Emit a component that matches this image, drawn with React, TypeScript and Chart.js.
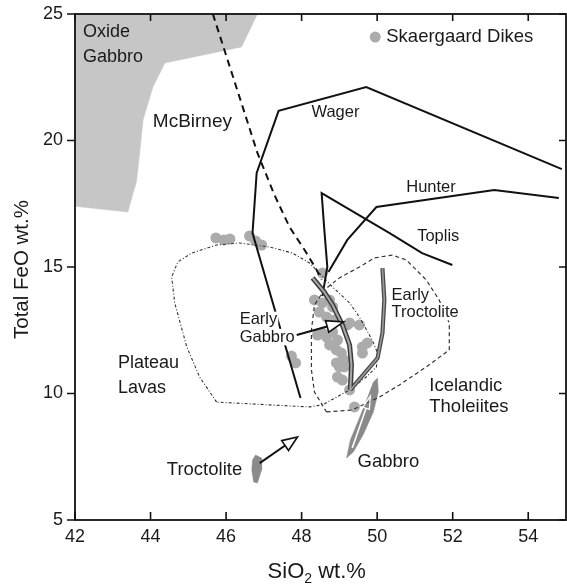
import React, { useEffect, useRef } from "react";
import { Chart, registerables } from "chart.js";

Chart.register(...registerables);

type Pt = { x: number; y: number };

const FONT = "'Liberation Sans', Arial, Helvetica, sans-serif";
const INK = "#1a1a1a";

// Axis ranges and ticks
const xMin = 42;
const xMax = 55;
const yMin = 5;
const yMax = 25;
const xTickValues = [42, 44, 46, 48, 50, 52, 54];
const yTickValues = [5, 10, 15, 20, 25];

// Skaergaard dike compositions: SiO2 and total FeO (wt.%)
const dikeSiO2 = [
  45.73, 45.94, 46.1, 46.62, 46.78, 46.94, 48.55, 48.34, 48.55, 48.74, 48.47, 48.66, 48.87,
  48.82, 49.27, 49.53, 48.42, 48.66, 48.82, 48.95, 48.92, 49.05, 49.13, 48.92, 49.0, 49.13,
  49.61, 49.74, 49.61, 48.95, 49.27, 49.4, 47.73, 47.84, 48.55, 49.21, 49.08, 48.74,
];
const dikeFeO = [
  16.15, 16.07, 16.11, 16.23, 16.03, 15.87, 14.76, 13.7, 13.58, 13.7, 13.22, 13.02, 12.91,
  13.42, 12.79, 12.71, 12.31, 12.23, 12.43, 12.11, 11.72, 11.6, 11.32, 11.21, 11.05, 11.05,
  11.84, 12.0, 11.6, 10.65, 10.14, 9.47, 11.48, 11.21, 12.39, 12.71, 10.53, 11.92,
];

// Oxide gabbro field
const oxideGabbro: Pt[] = [
  { x: 42, y: 25 }, { x: 46.83, y: 25 }, { x: 46.41, y: 23.7 }, { x: 44.38, y: 23.06 },
  { x: 44.06, y: 22.1 }, { x: 43.8, y: 20.8 }, { x: 43.72, y: 19.6 }, { x: 43.63, y: 18.4 },
  { x: 43.4, y: 17.17 }, { x: 42, y: 17.4 }, { x: 42, y: 25 },
];

// Liquid lines of descent
const mcBirney: Pt[] = [
  { x: 45.65, y: 25 }, { x: 46.83, y: 19.51 }, { x: 47.28, y: 17.85 }, { x: 47.68, y: 16.58 },
  { x: 48.08, y: 15.67 }, { x: 48.37, y: 14.96 }, { x: 48.53, y: 14.49 },
];
const wager: Pt[] = [
  { x: 47.97, y: 9.82 }, { x: 46.7, y: 16.34 }, { x: 46.81, y: 18.72 }, { x: 47.39, y: 21.17 },
  { x: 49.71, y: 22.11 }, { x: 54.89, y: 18.87 },
];
const hunter: Pt[] = [
  { x: 48.71, y: 14.8 }, { x: 49.21, y: 16.07 }, { x: 49.98, y: 17.37 }, { x: 53.1, y: 18.04 },
  { x: 54.81, y: 17.73 },
];
const toplis: Pt[] = [
  { x: 48.55, y: 13.85 }, { x: 48.68, y: 15.0 }, { x: 48.6, y: 16.5 }, { x: 48.53, y: 17.92 },
  { x: 50.33, y: 16.34 }, { x: 51.19, y: 15.55 }, { x: 51.99, y: 15.08 },
];
const earlyGabbro: Pt[] = [
  { x: 48.29, y: 14.57 }, { x: 48.6, y: 14.01 }, { x: 48.82, y: 13.5 }, { x: 49.08, y: 12.71 },
  { x: 49.27, y: 11.92 }, { x: 49.32, y: 11.13 }, { x: 49.29, y: 10.14 },
];
const earlyTroctolite: Pt[] = [
  { x: 50.14, y: 14.96 }, { x: 50.19, y: 13.7 }, { x: 50.14, y: 12.39 }, { x: 50.01, y: 11.4 },
  { x: 49.29, y: 10.14 },
];

// Comparison fields
const plateauLavas: Pt[] = [
  { x: 45.75, y: 9.66 }, { x: 45.3, y: 10.65 }, { x: 44.96, y: 11.84 }, { x: 44.64, y: 13.58 },
  { x: 44.56, y: 14.6 }, { x: 44.72, y: 15.2 }, { x: 45.09, y: 15.55 }, { x: 45.75, y: 15.87 },
  { x: 46.36, y: 15.95 }, { x: 47.15, y: 15.79 }, { x: 47.76, y: 15.55 }, { x: 48.21, y: 15.16 },
  { x: 48.47, y: 14.76 }, { x: 48.82, y: 14.21 }, { x: 49.27, y: 13.58 }, { x: 49.53, y: 13.02 },
  { x: 49.87, y: 12.11 }, { x: 50.01, y: 11.6 }, { x: 49.98, y: 11.05 }, { x: 49.71, y: 10.65 },
  { x: 49.27, y: 10.14 }, { x: 48.55, y: 9.55 }, { x: 48.21, y: 9.47 }, { x: 47.15, y: 9.55 },
  { x: 45.75, y: 9.66 },
];
const icelandicTholeiites: Pt[] = [
  { x: 48.66, y: 9.27 }, { x: 49.34, y: 9.35 }, { x: 50.06, y: 9.86 }, { x: 50.59, y: 10.34 },
  { x: 51.3, y: 11.05 }, { x: 51.91, y: 11.72 }, { x: 51.91, y: 12.79 }, { x: 51.64, y: 13.7 },
  { x: 51.3, y: 14.49 }, { x: 50.77, y: 15.28 }, { x: 50.4, y: 15.47 }, { x: 49.93, y: 15.36 },
  { x: 49.53, y: 15.0 }, { x: 49.0, y: 14.57 }, { x: 48.6, y: 14.09 }, { x: 48.34, y: 13.5 },
  { x: 48.26, y: 12.51 }, { x: 48.26, y: 10.93 }, { x: 48.34, y: 10.06 }, { x: 48.66, y: 9.27 },
];

// Cumulate compositions
const troctoliteField: Pt[] = [
  { x: 46.78, y: 7.57 }, { x: 46.94, y: 7.45 }, { x: 46.94, y: 6.98 }, { x: 46.83, y: 6.46 },
  { x: 46.73, y: 6.5 }, { x: 46.68, y: 6.98 }, { x: 46.7, y: 7.37 }, { x: 46.78, y: 7.57 },
];
const gabbroField: Pt[] = [
  { x: 49.19, y: 7.45 }, { x: 49.29, y: 8.16 }, { x: 49.53, y: 9.03 }, { x: 49.74, y: 9.82 },
  { x: 49.9, y: 10.45 }, { x: 50.01, y: 10.61 }, { x: 50.03, y: 10.06 }, { x: 49.9, y: 9.27 },
  { x: 49.64, y: 8.4 }, { x: 49.37, y: 7.69 }, { x: 49.19, y: 7.45 },
];

// Arrows: [fromX, fromY, toX, toY]
const arrowEarlyGabbro = [47.87, 12.31, 49.11, 12.83];
const arrowTroctolite = [46.89, 7.25, 47.89, 8.28];
const arrowGabbro = [49.34, 7.85, 49.82, 9.9];

// Text labels placed at (SiO2, FeO), left-aligned
const labelTexts = [
  "Oxide", "Gabbro", "McBirney", "Wager", "Hunter", "Toplis", "Early", "Gabbro", "Early",
  "Troctolite", "Plateau", "Lavas", "Icelandic", "Tholeiites", "Troctolite", "Gabbro",
];
const labelX = [42.21, 42.21, 44.06, 48.26, 50.77, 51.06, 46.36, 46.36, 50.38, 50.38, 43.14, 43.14, 51.38, 51.38, 44.43, 49.48];
const labelY = [24.29, 23.3, 20.73, 21.09, 18.16, 16.19, 12.91, 12.23, 13.89, 13.22, 11.21, 10.22, 10.3, 9.47, 6.98, 7.29];
const labelSize = [18, 18, 19, 16.5, 16.5, 16.5, 16.5, 16.5, 16.5, 16.5, 18, 18, 18.5, 18.5, 18.5, 18.5];
const labelBackdrop = [false, false, false, false, false, false, true, true, true, true, false, false, false, false, false, false];

const legendLabel = "Skaergaard Dikes";
const legendAt = [49.95, 24.09];

const dikeColor = "#ababab";

function drawArrow(
  ctx: CanvasRenderingContext2D,
  x0: number, y0: number, x1: number, y1: number,
  stroke: string, fill: string | null, len: number, half: number, width: number
) {
  const ang = Math.atan2(y1 - y0, x1 - x0);
  const bx = x1 - Math.cos(ang) * len;
  const by = y1 - Math.sin(ang) * len;
  ctx.strokeStyle = stroke;
  ctx.lineWidth = width;
  ctx.setLineDash([]);
  ctx.beginPath();
  ctx.moveTo(x0, y0);
  ctx.lineTo(bx, by);
  ctx.stroke();
  ctx.beginPath();
  ctx.moveTo(x1, y1);
  ctx.lineTo(bx - Math.sin(ang) * half, by + Math.cos(ang) * half);
  ctx.lineTo(bx + Math.sin(ang) * half, by - Math.cos(ang) * half);
  ctx.closePath();
  if (fill) {
    ctx.fillStyle = fill;
    ctx.fill();
  }
  ctx.lineWidth = width * 0.8;
  ctx.stroke();
}

const decorations = {
  id: "decorations",
  afterDraw(chart: any) {
    const { ctx, chartArea: a, scales } = chart;
    const xs = scales.x;
    const ys = scales.y;
    const px = (v: number) => xs.getPixelForValue(v);
    const py = (v: number) => ys.getPixelForValue(v);
    ctx.save();

    // text labels
    ctx.textBaseline = "middle";
    ctx.textAlign = "left";
    labelTexts.forEach((t, i) => {
      ctx.font = `${labelSize[i]}px ${FONT}`;
      const lx = px(labelX[i]);
      const ly = py(labelY[i]);
      if (labelBackdrop[i]) {
        const w = ctx.measureText(t).width;
        ctx.fillStyle = "#ffffff";
        ctx.fillRect(lx - 1, ly - labelSize[i] * 0.5, w + 2, labelSize[i]);
      }
      ctx.fillStyle = INK;
      ctx.fillText(t, lx, ly);
    });

    // arrows
    drawArrow(ctx, px(arrowEarlyGabbro[0]), py(arrowEarlyGabbro[1]), px(arrowEarlyGabbro[2]), py(arrowEarlyGabbro[3]), "#111", "#ffffff", 17, 6, 2);
    drawArrow(ctx, px(arrowTroctolite[0]), py(arrowTroctolite[1]), px(arrowTroctolite[2]), py(arrowTroctolite[3]), "#111", "#ffffff", 15, 6, 2);
    drawArrow(ctx, px(arrowGabbro[0]), py(arrowGabbro[1]), px(arrowGabbro[2]), py(arrowGabbro[3]), "#ffffff", null, 13, 3.5, 1.6);

    // legend
    ctx.fillStyle = dikeColor;
    ctx.beginPath();
    ctx.arc(px(legendAt[0]), py(legendAt[1]), 5.5, 0, Math.PI * 2);
    ctx.fill();
    ctx.fillStyle = INK;
    ctx.font = `18.5px ${FONT}`;
    ctx.fillText(legendLabel, px(legendAt[0]) + 11, py(legendAt[1]));

    // frame
    ctx.strokeStyle = "#111";
    ctx.lineWidth = 1.8;
    ctx.setLineDash([]);
    ctx.strokeRect(a.left, a.top, a.right - a.left, a.bottom - a.top);

    // tick marks: outward on the left, inward elsewhere
    ctx.lineWidth = 1.6;
    ctx.beginPath();
    xTickValues.forEach((v) => {
      const x = px(v);
      ctx.moveTo(x, a.bottom);
      ctx.lineTo(x, a.bottom - 8);
      ctx.moveTo(x, a.top);
      ctx.lineTo(x, a.top + 7);
    });
    yTickValues.forEach((v) => {
      const y = py(v);
      ctx.moveTo(a.left, y);
      ctx.lineTo(a.left - 8, y);
      ctx.moveTo(a.right, y);
      ctx.lineTo(a.right - 7, y);
    });
    ctx.stroke();

    // axis titles
    ctx.fillStyle = INK;
    ctx.textBaseline = "alphabetic";
    const big = `22px ${FONT}`;
    const small = `14px ${FONT}`;
    ctx.font = big;
    const w1 = ctx.measureText("SiO").width;
    const w3 = ctx.measureText(" wt.%").width;
    ctx.font = small;
    const w2 = ctx.measureText("2").width;
    const total = w1 + w2 + w3;
    const cx = px(48.4);
    let tx = cx - total / 2;
    const baseY = 578;
    ctx.textAlign = "left";
    ctx.font = big;
    ctx.fillText("SiO", tx, baseY);
    tx += w1;
    ctx.font = small;
    ctx.fillText("2", tx, baseY + 5);
    tx += w2;
    ctx.font = big;
    ctx.fillText(" wt.%", tx, baseY);

    ctx.translate(22, py(14.9));
    ctx.rotate(-Math.PI / 2);
    ctx.textAlign = "center";
    ctx.textBaseline = "middle";
    ctx.font = `20.5px ${FONT}`;
    ctx.fillText("Total FeO wt.%", 0, 0);

    ctx.restore();
  },
};

const outline = (data: Pt[], color: string, width: number, dash: number[], order: number) => ({
  type: "scatter" as const,
  data,
  showLine: true,
  pointRadius: 0,
  borderColor: color,
  borderWidth: width,
  borderDash: dash,
  fill: false,
  tension: 0,
  order,
});

const field = (data: Pt[], color: string, order: number) => ({
  type: "scatter" as const,
  data,
  showLine: true,
  pointRadius: 0,
  borderColor: color,
  borderWidth: 0.5,
  backgroundColor: color,
  fill: "shape",
  tension: 0,
  order,
});

export default function App() {
  const ref = useRef<HTMLCanvasElement | null>(null);

  useEffect(() => {
    if (!ref.current) return;
    const dikes: Pt[] = dikeSiO2.map((x, i) => ({ x, y: dikeFeO[i] }));
    const chart = new Chart(ref.current, {
      type: "scatter",
      data: {
        datasets: [
          outline(earlyGabbro, "#a9a9a9", 2, [], 1),
          outline(earlyGabbro, "#3c3c3c", 5, [], 2),
          outline(earlyTroctolite, "#9a9a9a", 1.6, [], 1),
          outline(earlyTroctolite, "#4a4a4a", 4.2, [], 2),
          outline(wager, "#111", 2, [], 3),
          outline(hunter, "#111", 2, [], 3),
          outline(toplis, "#111", 2, [], 3),
          outline(mcBirney, "#111", 2, [7, 5], 3),
          outline(plateauLavas, "#333", 1.1, [3, 2, 1, 2], 4),
          outline(icelandicTholeiites, "#333", 1.2, [4, 3], 4),
          field(gabbroField, "#8a8a8a", 5),
          field(troctoliteField, "#8a8a8a", 5),
          {
            type: "scatter",
            data: dikes,
            pointRadius: 5.5,
            pointBackgroundColor: dikeColor,
            pointBorderWidth: 0,
            pointBorderColor: dikeColor,
            showLine: false,
            order: 6,
          },
          field(oxideGabbro, "#c6c6c6", 7),
        ] as any,
      },
      options: {
        responsive: false,
        animation: false,
        devicePixelRatio: 1,
        layout: { autoPadding: false, padding: { left: 0, right: 1, top: 14, bottom: 0 } },
        plugins: {
          legend: { display: false },
          tooltip: { enabled: false },
          title: { display: false },
        },
        scales: {
          x: {
            type: "linear",
            min: xMin,
            max: xMax,
            grid: { display: false, drawTicks: false },
            border: { display: false },
            afterBuildTicks: (s: any) => {
              s.ticks = xTickValues.map((value) => ({ value }));
            },
            afterFit: (s: any) => {
              s.height = 64;
              s.paddingLeft = 0;
              s.paddingRight = 0;
            },
            ticks: {
              autoSkip: false,
              maxRotation: 0,
              padding: 6,
              color: INK,
              font: { family: FONT, size: 18 },
            },
          },
          y: {
            type: "linear",
            min: yMin,
            max: yMax,
            grid: { display: false, drawTicks: false },
            border: { display: false },
            afterBuildTicks: (s: any) => {
              s.ticks = yTickValues.map((value) => ({ value }));
            },
            afterFit: (s: any) => {
              s.width = 75;
              s.paddingTop = 0;
              s.paddingBottom = 0;
            },
            ticks: {
              autoSkip: false,
              padding: 12,
              color: INK,
              font: { family: FONT, size: 18 },
            },
          },
        },
      },
      plugins: [decorations],
    });
    return () => chart.destroy();
  }, []);

  return (
    <div style={{ position: "absolute", left: 0, top: 0, width: 567, height: 584, background: "#fff" }}>
      <canvas ref={ref} width={567} height={584} style={{ display: "block", width: 567, height: 584 }} />
    </div>
  );
}
